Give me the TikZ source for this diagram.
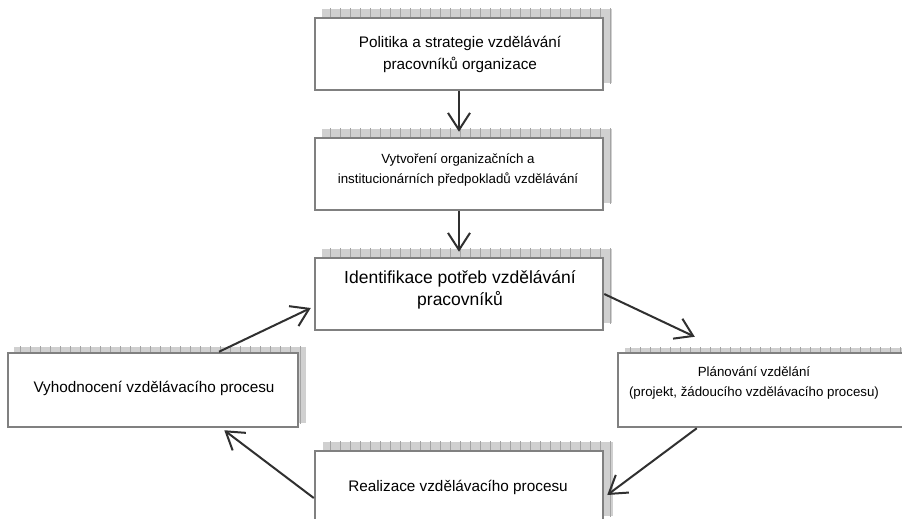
\documentclass[tikz,border=0pt]{standalone}
\usepackage{fontspec}
\setmainfont{Liberation Sans}
\usetikzlibrary{arrows.meta,calc,backgrounds}

\definecolor{boxline}{HTML}{808080}
\definecolor{arrowline}{HTML}{303030}
\definecolor{shadowfill}{HTML}{D0D0D0}
\definecolor{shadowgrid}{HTML}{A4A4A4}

\tikzset{
  stagebox/.style={draw=boxline, line width=2.5pt, fill=white, rectangle, inner sep=0pt},
  stagetext/.style={align=center, inner sep=0pt, text=black},
  bigtext/.style={stagetext, font=\fontsize{15.3}{22}\selectfont},
  smalltext/.style={stagetext, font=\fontsize{13.3}{20}\selectfont},
  flow/.style={draw=arrowline, line width=2pt,
    -{Straight Barb[length=17pt,width=22pt,line width=2pt]}},
}

% hatched drop shadow up and to the right of a box
\newcommand\boxshadow[3]{%
  \begin{scope}[on background layer]
    \path ($(#1.south west)+(#2,#3)$) coordinate (#1-ssw)
          ($(#1.north east)+(#2,#3)$) coordinate (#1-sne);
    \fill[shadowfill] (#1-ssw) rectangle (#1-sne);
    \begin{scope}
      \clip (#1-ssw) rectangle (#1-sne);
      \draw[shadowgrid, line width=0.8pt, step=10] (0,0) grid (910,530);
    \end{scope}
  \end{scope}}

\begin{document}
\begin{tikzpicture}[x=1pt,y=-1pt]
  \useasboundingbox (0,0) rectangle (902,519);
  \begin{scope}[on background layer]
    \fill[white] (0,0) rectangle (902,519);
  \end{scope}
  \clip (0,0) rectangle (902,519);

  % boxes
  \node[stagebox, minimum width=288, minimum height=72] (b1) at (459,54) {};
  \node[stagebox, minimum width=288, minimum height=72] (b2) at (459,174) {};
  \node[stagebox, minimum width=288, minimum height=72] (b3) at (459,294) {};
  \node[stagebox, minimum width=290, minimum height=74] (b4) at (153,390) {};
  \node[stagebox, minimum width=297, minimum height=74] (b5) at (766.5,390) {};
  \node[stagebox, minimum width=288, minimum height=72] (b6) at (459,487) {};

  \boxshadow{b1}{8}{-8}
  \boxshadow{b2}{8}{-8}
  \boxshadow{b3}{8}{-8}
  \boxshadow{b4}{7}{-5}
  \boxshadow{b5}{8}{-4}
  \boxshadow{b6}{9}{-8}

  % labels
  \node[bigtext] (t1) at (460,54) {Politika a strategie vzdělávání\\pracovníků organizace};
  \node[smalltext] (t2) at (458,170) {Vytvoření organizačních a\\institucionárních předpokladů vzdělávání};
  \node[bigtext, font=\fontsize{17.5}{22}\selectfont] (t3) at (460,290) {Identifikace potřeb vzdělávání\\pracovníků};
  \node[bigtext] (t4) at (154,388) {Vyhodnocení vzdělávacího procesu};
  \node[smalltext] (t5) at (754,383) {Plánování vzdělání\\(projekt, žádoucího vzdělávacího procesu)};
  \node[bigtext] (t6) at (458,487) {Realizace vzdělávacího procesu};

  % arrow end points
  \coordinate (p3) at ($(b5.north west)+(78,-15)$);
  \coordinate (s4) at ($(b5.south west)+(80,0)$);
  \coordinate (p4) at ($(b6.east)+(3,8)$);
  \coordinate (s5) at ($(b6.west)+(0,11)$);
  \coordinate (p5) at ($(b4.south east)+(-75,2)$);
  \coordinate (s6) at ($(b4.north)+(66,0)$);
  \coordinate (p6) at ($(b3.west)+(-3,14)$);

  % connectors
  \draw[flow] (b1.south) -- ([yshift=5pt]b2.north);
  \draw[flow] (b2.south) -- ([yshift=5pt]b3.north);
  \draw[flow] (b3.east) -- (p3);
  \draw[flow] (s4) -- (p4);
  \draw[flow] (s5) -- (p5);
  \draw[flow] (s6) -- (p6);
\end{tikzpicture}
\end{document}
